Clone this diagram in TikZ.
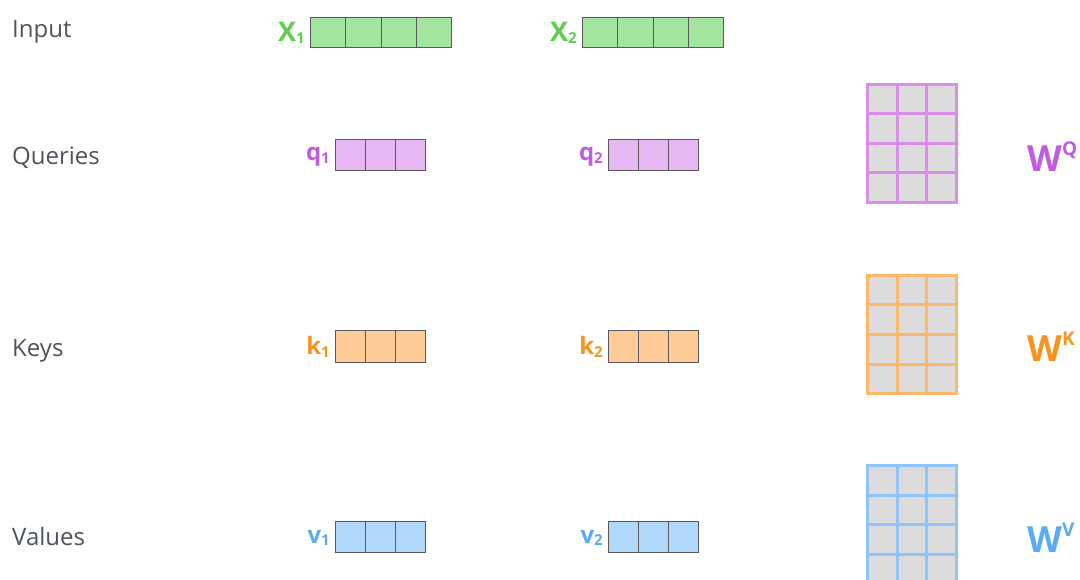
\documentclass[tikz,border=0pt]{standalone}
\usepackage{fontspec}
\setmainfont{Open Sans}
\definecolor{lblgray}{HTML}{4E545B}
\definecolor{edgegray}{HTML}{5A5A5A}
\definecolor{gfill}{HTML}{A3E4A0}\definecolor{gtext}{HTML}{5CCF4B}
\definecolor{pfill}{HTML}{E6B8F2}\definecolor{ptext}{HTML}{C25BE0}\definecolor{pline}{HTML}{D98EE9}
\definecolor{ofill}{HTML}{FECC99}\definecolor{otext}{HTML}{F7931E}\definecolor{oline}{HTML}{FDB96B}
\definecolor{bfill}{HTML}{B2D9FB}\definecolor{btext}{HTML}{5AAAF5}\definecolor{bline}{HTML}{8FC5FB}
\definecolor{cellgray}{HTML}{DCDCDC}
\tikzset{
  rowlabel/.style={anchor=base west, text=lblgray, font=\fontsize{24}{27}\selectfont, inner sep=0pt},
  veclabel/.style={anchor=east, font=\bfseries\fontsize{24}{28}\selectfont, inner sep=0pt},
  vcell/.style={draw=edgegray, line width=1pt, inner sep=0pt, anchor=north west},
  mcell/.style={draw=#1, fill=cellgray, line width=3pt, inner sep=0pt, anchor=north west,
                minimum width=29.67pt, minimum height=29.5pt},
  wlabel/.style={anchor=west, font=\bfseries\fontsize{36}{40}\selectfont, inner sep=0pt},
}
\newcommand{\vsub}[1]{\raisebox{-0.1em}{\fontsize{15}{16}\selectfont #1}}
\newcommand{\wsup}[1]{\raisebox{0.45em}{\fontsize{19}{20}\selectfont #1}}
\begin{document}
\begin{tikzpicture}[x=1pt,y=-1pt]
\useasboundingbox (0,0) rectangle (1080,580);
\clip (0,0) rectangle (1080,580);
% row labels
\node[rowlabel] (lin) at (12,38) {Input};
\node[rowlabel] (lq) at (12,165) {Queries};
\node[rowlabel] (lk) at (12,356) {Keys};
\node[rowlabel] (lv) at (12,545.5) {Values};
% input vectors
\foreach \i in {0,...,3}{
  \node[vcell, fill=gfill, minimum width=35.25pt, minimum height=30pt] (xa\i) at (310+\i*35.25,17) {};
  \node[vcell, fill=gfill, minimum width=35.25pt, minimum height=30pt] (xb\i) at (582+\i*35.25,17) {};
}
\node[veclabel, text=gtext, font=\bfseries\fontsize{27}{30}\selectfont] (tx1) at (305,33) {X\vsub{1}};
\node[veclabel, text=gtext, font=\bfseries\fontsize{27}{30}\selectfont] (tx2) at (577,33) {X\vsub{2}};
% q k v vectors
\foreach \i in {0,...,2}{
  \node[vcell, fill=pfill, minimum width=30pt, minimum height=31pt] (qa\i) at (335+\i*30,139) {};
  \node[vcell, fill=pfill, minimum width=30pt, minimum height=31pt] (qb\i) at (607.5+\i*30,139) {};
  \node[vcell, fill=ofill, minimum width=30pt, minimum height=31pt] (ka\i) at (335+\i*30,330.5) {};
  \node[vcell, fill=ofill, minimum width=30pt, minimum height=31pt] (kb\i) at (607.5+\i*30,330.5) {};
  \node[vcell, fill=bfill, minimum width=30pt, minimum height=31pt] (va\i) at (335+\i*30,520.5) {};
  \node[vcell, fill=bfill, minimum width=30pt, minimum height=31pt] (vb\i) at (607.5+\i*30,520.5) {};
}
\node[veclabel, text=ptext] (tq1) at (330,157) {q\vsub{1}};
\node[veclabel, text=ptext] (tq2) at (603,157) {q\vsub{2}};
\node[veclabel, text=otext] (tk1) at (330,347) {k\vsub{1}};
\node[veclabel, text=otext] (tk2) at (603,347) {k\vsub{2}};
\node[veclabel, text=btext] (tv1) at (330,538) {v\vsub{1}};
\node[veclabel, text=btext] (tv2) at (603,538) {v\vsub{2}};
% weight matrices
\foreach \r in {0,...,3}{
  \foreach \c in {0,...,2}{
    \node[mcell=pline] (wq\r\c) at (866+\c*29.67,83+\r*29.5) {};
    \node[mcell=oline] (wk\r\c) at (866+\c*29.67,274+\r*29.5) {};
    \node[mcell=bline] (wv\r\c) at (866+\c*29.67,464+\r*29.5) {};
  }
}
\node[wlabel, text=ptext] (twq) at (1027,157) {W\wsup{Q}};
\node[wlabel, text=otext] (twk) at (1027,347) {W\wsup{K}};
\node[wlabel, text=btext] (twv) at (1027,538) {W\wsup{V}};
\end{tikzpicture}
\end{document}
